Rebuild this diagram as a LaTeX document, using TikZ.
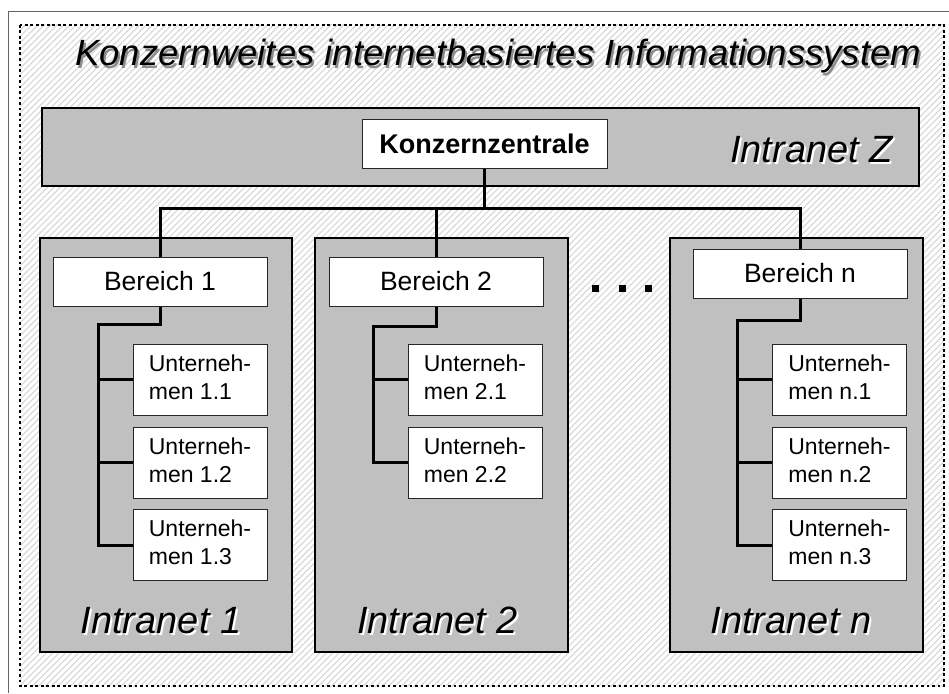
\documentclass[tikz,border=0pt]{standalone}
\usepackage{fontspec}
\setmainfont{Liberation Sans}
\usetikzlibrary{patterns.meta}
\definecolor{boxgray}{RGB}{192,192,192}
\newcommand\shadowtext[2]{\leavevmode\rlap{\kern2pt\raisebox{-2pt}{\textcolor{#1}{#2}}}#2}
\begin{document}
\begin{tikzpicture}[x=1pt,y=-1pt,
  grp/.style={draw=black,line width=1.5pt,fill=boxgray,inner sep=0pt,anchor=north west},
  wbox/.style={draw=black!85,line width=1pt,fill=white,inner sep=0pt,align=center},
  bbox/.style={wbox,minimum width=214,minimum height=49,font=\fontsize{26.5}{30}\selectfont},
  ubox/.style={wbox,minimum width=134,minimum height=71,font=\fontsize{23}{28}\selectfont},
  conn/.style={line width=3pt,line join=miter,line cap=butt},
  lbl/.style={font=\fontsize{38}{40}\selectfont\itshape,inner sep=0pt},
  dotsq/.style={fill=black,inner sep=0pt,minimum size=7},
]
\useasboundingbox (0,0) rectangle (949,693);
\fill[white] (0,0) rectangle (949,693);
\draw[black!60,line width=1pt] (8,693) -- (8,12) -- (949,12);
\fill[pattern={Lines[angle=45,distance=4.5pt,line width=1.2pt]},pattern color=black!15] (20,25) rectangle (944,686);
\draw[line width=2.7pt,dash pattern=on 2.7pt off 2.8pt] (20,25) rectangle (944,686);

% title
\node[font=\fontsize{36.5}{40}\selectfont\itshape,inner sep=0pt,anchor=base west] (title) at (75,66) {\shadowtext{black!45}{Konzernweites internetbasiertes Informationssystem}};

% group boxes
\node[grp,minimum width=877,minimum height=78] (iz) at (41,107) {};
\node[grp,minimum width=252,minimum height=414] (i1) at (39,237) {};
\node[grp,minimum width=253,minimum height=414] (i2) at (314,237) {};
\node[grp,minimum width=253,minimum height=414] (in) at (669,237) {};

% labels
\node[lbl,anchor=base east] (lz) at (893,162) {\shadowtext{white}{Intranet Z}};
\node[lbl,anchor=base] (l1) at (161,633) {\shadowtext{white}{Intranet 1}};
\node[lbl,anchor=base] (l2) at (437.5,633) {\shadowtext{white}{Intranet 2}};
\node[lbl,anchor=base] (ln) at (791,633) {\shadowtext{white}{Intranet n}};

% white boxes
\node[wbox,minimum width=245,minimum height=49,font=\bfseries\fontsize{27}{30}\selectfont] (kz) at (484.5,143.5) {Konzernzentrale};
\node[bbox] (b1) at (160,281.5) {Bereich 1};
\node[bbox] (b2) at (436,281.5) {Bereich 2};
\node[bbox] (bn) at (800,273.5) {Bereich n};

\node[ubox] (u11) at (200,379.5) {\begin{tabular}{@{}l@{}}Unterneh-\\men 1.1\end{tabular}};
\node[ubox] (u12) at (200,462.5) {\begin{tabular}{@{}l@{}}Unterneh-\\men 1.2\end{tabular}};
\node[ubox] (u13) at (200,545) {\begin{tabular}{@{}l@{}}Unterneh-\\men 1.3\end{tabular}};
\node[ubox] (u21) at (475,379.5) {\begin{tabular}{@{}l@{}}Unterneh-\\men 2.1\end{tabular}};
\node[ubox] (u22) at (475,462.5) {\begin{tabular}{@{}l@{}}Unterneh-\\men 2.2\end{tabular}};
\node[ubox] (un1) at (839.5,379.5) {\begin{tabular}{@{}l@{}}Unterneh-\\men n.1\end{tabular}};
\node[ubox] (un2) at (839.5,462.5) {\begin{tabular}{@{}l@{}}Unterneh-\\men n.2\end{tabular}};
\node[ubox] (un3) at (839.5,545) {\begin{tabular}{@{}l@{}}Unterneh-\\men n.3\end{tabular}};

% dots
\node[dotsq] (d1) at (595,288) {};
\node[dotsq] (d2) at (622,288) {};
\node[dotsq] (d3) at (648,288) {};

% connectors
\coordinate (bus) at (0,208);
\draw[conn] (kz.south) -- (kz.south |- bus);
\draw[conn] (b1.north) -- (b1.north |- bus) -- (bn.north |- bus) -- (bn.north);
\draw[conn] (b2.north) -- (b2.north |- bus);

\coordinate (t1) at (98,324);
\draw[conn] (b1.south) |- (t1) |- (u13.west);
\draw[conn] (t1 |- u11.west) -- (u11.west);
\draw[conn] (t1 |- u12.west) -- (u12.west);

\coordinate (t2) at (373,326);
\draw[conn] (b2.south) |- (t2) |- (u22.west);
\draw[conn] (t2 |- u21.west) -- (u21.west);

\coordinate (tn) at (737,320);
\draw[conn] (bn.south) |- (tn) |- (un3.west);
\draw[conn] (tn |- un1.west) -- (un1.west);
\draw[conn] (tn |- un2.west) -- (un2.west);
\end{tikzpicture}
\end{document}
